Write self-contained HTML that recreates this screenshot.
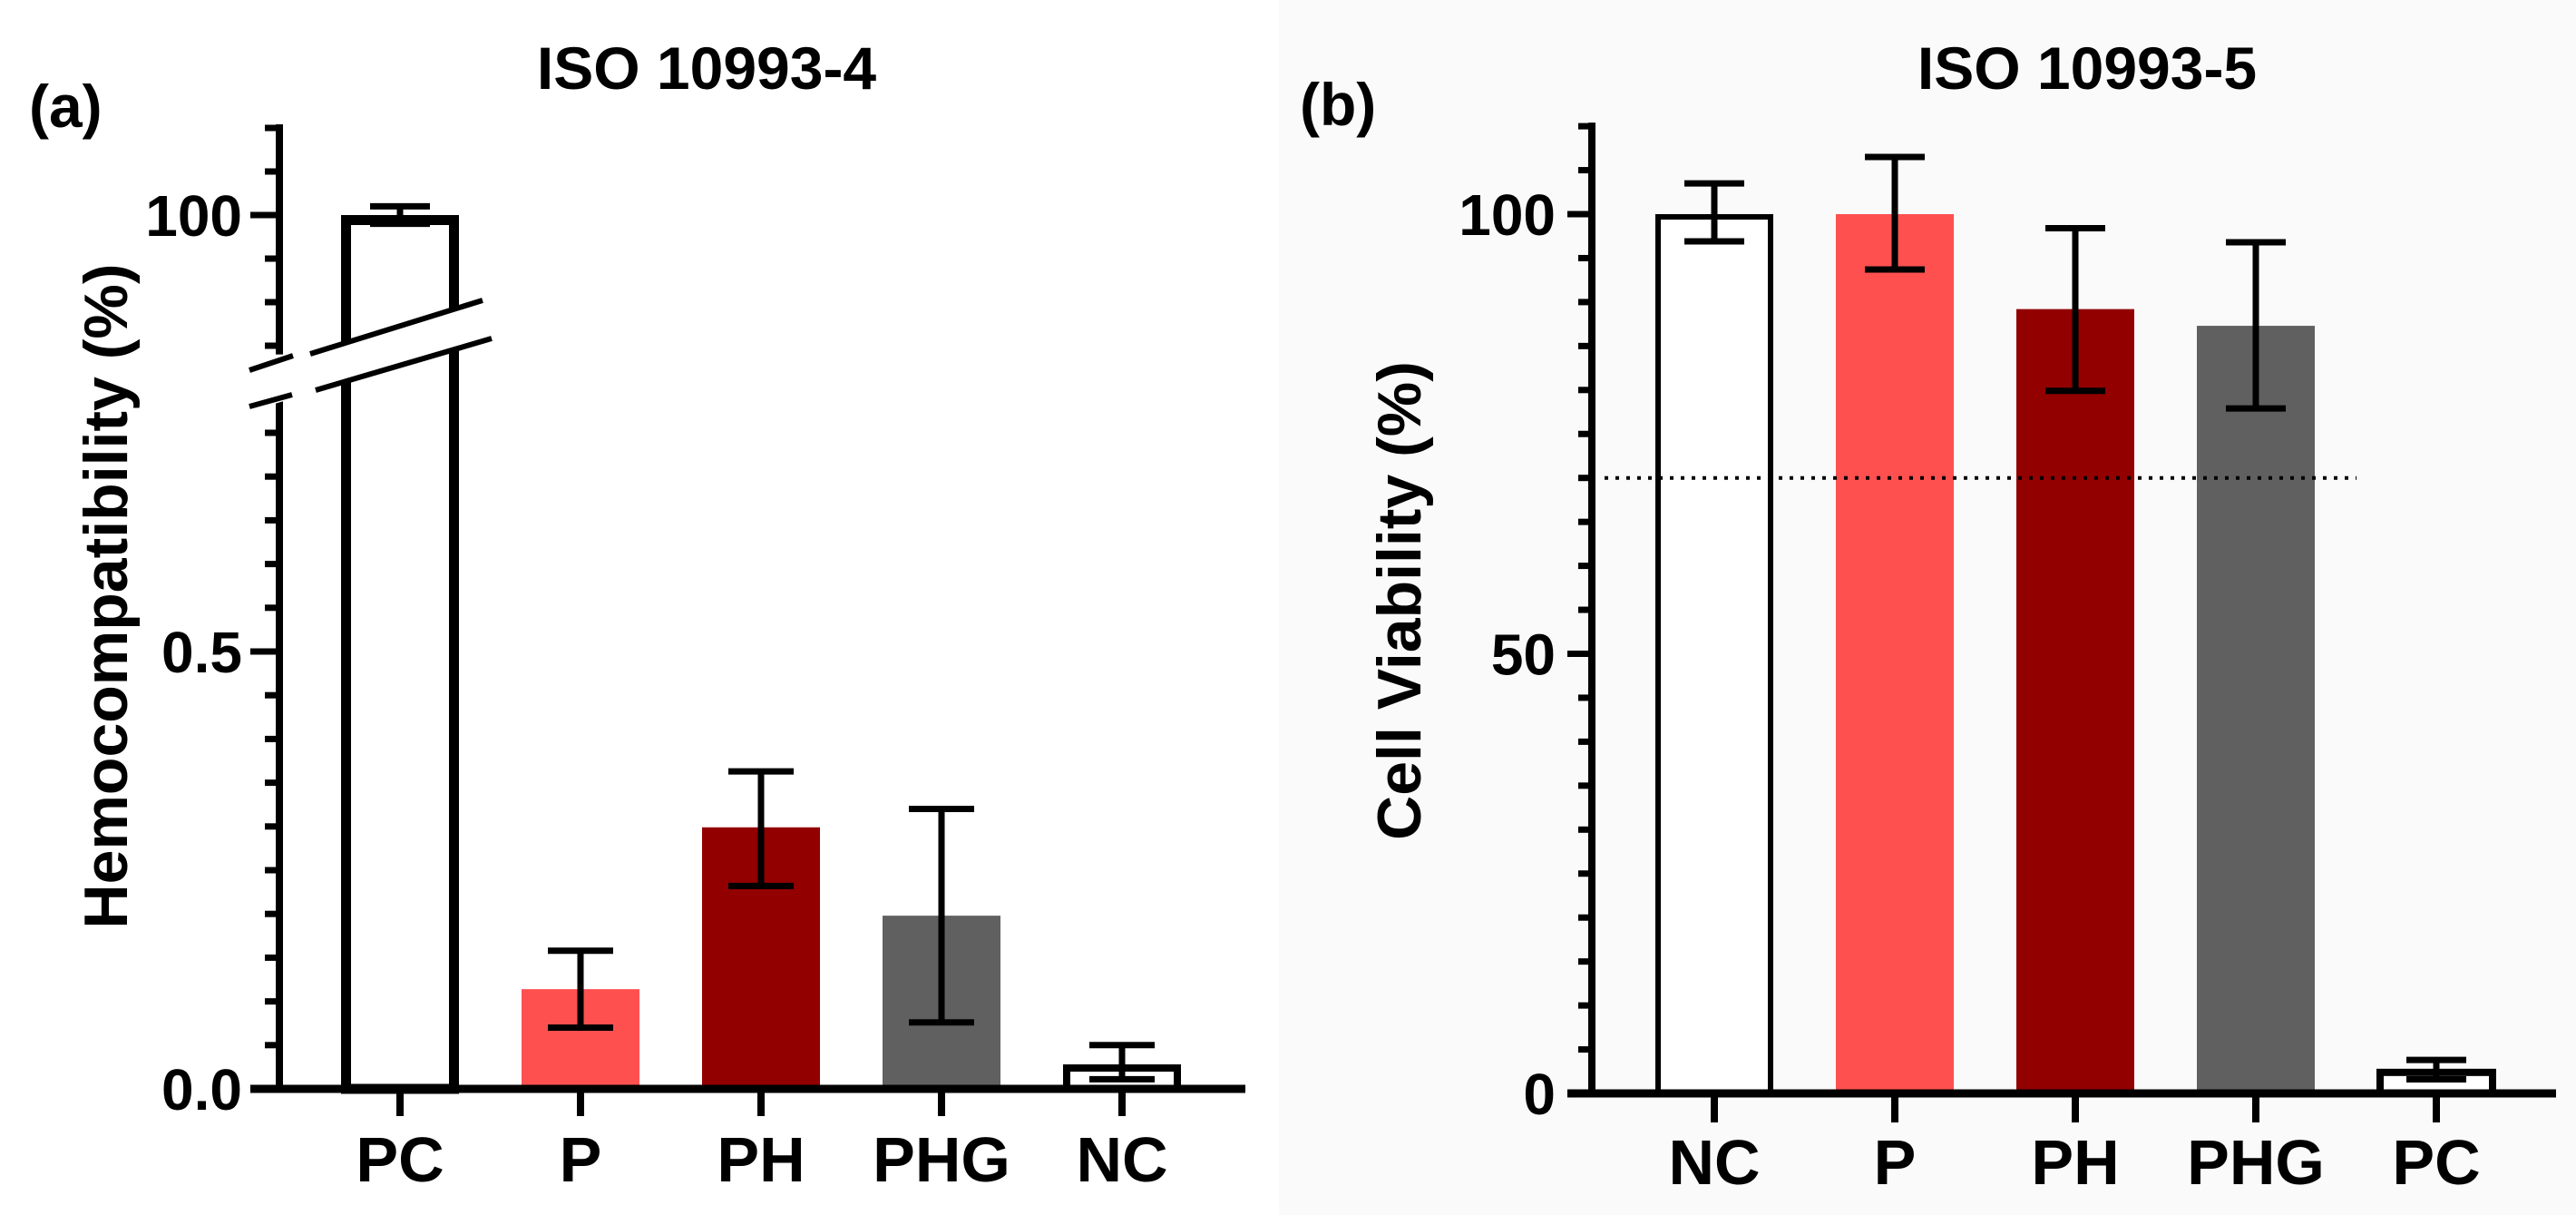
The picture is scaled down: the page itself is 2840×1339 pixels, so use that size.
<!DOCTYPE html>
<html><head><meta charset="utf-8"><style>
html,body{margin:0;padding:0;background:#fff}
svg{display:block}
text{font-family:"Liberation Sans",Arial,sans-serif;font-weight:bold;fill:#000}
</style></head><body>
<svg id="chart" width="2840" height="1339" viewBox="0 0 2840 1339" xmlns="http://www.w3.org/2000/svg">
<rect x="1410" y="0" width="1430" height="1339" fill="#fafafa"/>
<g id="pa"></g>
<g id="pb"></g>
<text x="779" y="98" font-size="66" text-anchor="middle">ISO 10993-4</text>
<text x="32" y="140" font-size="66">(a)</text>
<text transform="translate(140,657) rotate(-90)" font-size="68" text-anchor="middle">Hemocompatibility (%)</text>
<text x="2301" y="98" font-size="66" text-anchor="middle">ISO 10993-5</text>
<text x="1433" y="138" font-size="66">(b)</text>
<text transform="translate(1566,662) rotate(-90)" font-size="68" text-anchor="middle">Cell Viability (%)</text>
</svg>
<script>
// Panel (a) data
const catsA = ["PC","P","PH","PHG","NC"];
const valsA = [100, 0.114, 0.299, 0.198, 0.028];
const errHiA = [100.2, 0.158, 0.363, 0.320, 0.050];
const errLoA = [99.8, 0.070, 0.232, 0.076, 0.011];
const colorsA = ["#ffffff","#ff5050","#920000","#606060","#ffffff"];
const outlineA = [true,false,false,false,true];
const ticksLowA = ["0.0","0.5"];
const ticksLowValA = [0, 0.5];
const ticksHighA = ["100"];
const ticksHighValA = [100];
// Panel (b) data
const catsB = ["NC","P","PH","PHG","PC"];
const valsB = [100, 100, 89.2, 87.3, 2.7];
const errHiB = [103.5, 106.5, 98.4, 96.8, 3.8];
const errLoB = [96.9, 93.7, 79.9, 77.9, 1.6];
const colorsB = ["#ffffff","#ff5050","#920000","#606060","#ffffff"];
const outlineB = [true,false,false,false,true];
const ticksB = ["0","50","100"];
const ticksValB = [0,50,100];
const thresholdB = [70];

const NS="http://www.w3.org/2000/svg";
function mk(parent,tag,attrs,txt){const e=document.createElementNS(NS,tag);for(const k in attrs)e.setAttribute(k,attrs[k]);if(txt!==undefined)e.textContent=txt;parent.appendChild(e);return e;}

// ---- Panel A ----
const pa=document.getElementById('pa');
const axA=308, baseA=1200, lowScale=964, lowTop=0.79, hiRef=237, hiScale=48, hiBottom=96.8, hiTop=102;
function yA(v){ if(v<=lowTop+0.5) return baseA - v*lowScale; return hiRef - (v-100)*hiScale; }
function xA(i){ return 441 + i*199; }
const bwA=130;
catsA.forEach((c,i)=>{
  const x=xA(i)-bwA/2, y=yA(valsA[i]);
  let r;
  if(outlineA[i]){
    const sw = i===0?11:8;
    r=mk(pa,'rect',{x:x+sw/2,y:y+sw/2,width:bwA-sw,height:baseA-y-sw/2,fill:'#fff',stroke:'#000','stroke-width':sw});
  } else {
    r=mk(pa,'rect',{x:x,y:y,width:bwA,height:baseA-y,fill:colorsA[i]});
  }
  
  
  const cx=xA(i), yh=yA(errHiA[i]), yl=yA(errLoA[i]);
  const g=mk(pa,'g',{stroke:'#000','stroke-width':7});
  
  
  mk(g,'line',{x1:cx,y1:yh,x2:cx,y2:yl});
  const cw = i===0?33:36;
  mk(g,'line',{x1:cx-cw,y1:yh,x2:cx+cw,y2:yh});
  mk(g,'line',{x1:cx-cw,y1:yl,x2:cx+cw,y2:yl});
  const t=mk(pa,'text',{x:cx,y:1302,'font-size':70,'text-anchor':'middle'},c);
  
  
  const tk=mk(pa,'line',{x1:cx,y1:baseA,x2:cx,y2:1230,stroke:'#000','stroke-width':8});
  
  
});
const yaxA1=mk(pa,'line',{x1:axA,y1:baseA+4,x2:axA,y2:yA(lowTop),stroke:'#000','stroke-width':8});


const yaxA2=mk(pa,'line',{x1:axA,y1:yA(hiBottom),x2:axA,y2:yA(hiTop)-4,stroke:'#000','stroke-width':8});


for(let v=0; v<=lowTop+1e-9; v+=0.05){
  const major = Math.abs(v-0)<1e-6||Math.abs(v-0.5)<1e-6;
  const l=mk(pa,'line',{x1:major?276:292,y1:yA(v),x2:axA,y2:yA(v),stroke:'#000','stroke-width':7});
  
  
}
for(let v=97; v<=hiTop; v+=1){
  const major=v===100;
  const l=mk(pa,'line',{x1:major?276:292,y1:yA(v),x2:axA,y2:yA(v),stroke:'#000','stroke-width':7});
  
  
}
ticksLowA.forEach((s,i)=>{const t=mk(pa,'text',{x:267,y:yA(ticksLowValA[i])+23,'font-size':64,'text-anchor':'end'},s);

});
ticksHighA.forEach((s,i)=>{const t=mk(pa,'text',{x:267,y:yA(ticksHighValA[i])+23,'font-size':64,'text-anchor':'end'},s);

});
const xaxA=mk(pa,'line',{x1:276,y1:baseA,x2:1373,y2:baseA,stroke:'#000','stroke-width':9});


const brk=mk(pa,'g',{});


mk(brk,'polygon',{points:'270,412 545,325 550,370 270,455',fill:'#fff'});
mk(brk,'line',{x1:275,y1:408,x2:323,y2:392,stroke:'#000','stroke-width':6});
mk(brk,'line',{x1:342,y1:390,x2:532,y2:331,stroke:'#000','stroke-width':6});
mk(brk,'line',{x1:275,y1:448,x2:322,y2:435,stroke:'#000','stroke-width':6});
mk(brk,'line',{x1:348,y1:430,x2:542,y2:373,stroke:'#000','stroke-width':6});

// ---- Panel B ----
const pb=document.getElementById('pb');
const axB=1755, baseB=1205, scaleB=9.69, topB=110;
function yB(v){ return baseB - v*scaleB; }
function xB(i){ return 1890 + i*199; }
const bwB=130;
catsB.forEach((c,i)=>{
  const x=xB(i)-bwB/2, y=yB(valsB[i]);
  let r;
  if(outlineB[i]){
    const sw=6;
    r=mk(pb,'rect',{x:x+sw/2,y:y+sw/2,width:bwB-sw,height:baseB-y-sw/2,fill:'#fff',stroke:'#000','stroke-width':i===4?8:sw});
  } else {
    r=mk(pb,'rect',{x:x,y:y,width:bwB,height:baseB-y,fill:colorsB[i]});
  }
  
  
  const t=mk(pb,'text',{x:xB(i),y:1305,'font-size':70,'text-anchor':'middle'},c);
  
  
  const tk=mk(pb,'line',{x1:xB(i),y1:baseB,x2:xB(i),y2:1237,stroke:'#000','stroke-width':8});
  
  
});
const th=mk(pb,'line',{x1:1769,y1:yB(thresholdB[0]),x2:2598,y2:yB(thresholdB[0]),stroke:'#000','stroke-width':4,'stroke-dasharray':'4 8'});


catsB.forEach((c,i)=>{
  const cx=xB(i), yh=yB(errHiB[i]), yl=yB(errLoB[i]);
  const g=mk(pb,'g',{stroke:'#000','stroke-width':7});
  
  
  mk(g,'line',{x1:cx,y1:yh,x2:cx,y2:yl});
  mk(g,'line',{x1:cx-33,y1:yh,x2:cx+33,y2:yh});
  mk(g,'line',{x1:cx-33,y1:yl,x2:cx+33,y2:yl});
});
const yaxB=mk(pb,'line',{x1:axB,y1:baseB+4,x2:axB,y2:yB(topB)-4,stroke:'#000','stroke-width':8});


for(let v=0; v<=topB; v+=5){
  const major=v%50===0;
  const l=mk(pb,'line',{x1:major?1728:1740,y1:yB(v),x2:axB,y2:yB(v),stroke:'#000','stroke-width':7});
  
  
}
ticksB.forEach((s,i)=>{const t=mk(pb,'text',{x:1715,y:yB(ticksValB[i])+23,'font-size':64,'text-anchor':'end'},s);

});
const xaxB=mk(pb,'line',{x1:1728,y1:baseB,x2:2818,y2:baseB,stroke:'#000','stroke-width':9});


</script>
</body></html>
